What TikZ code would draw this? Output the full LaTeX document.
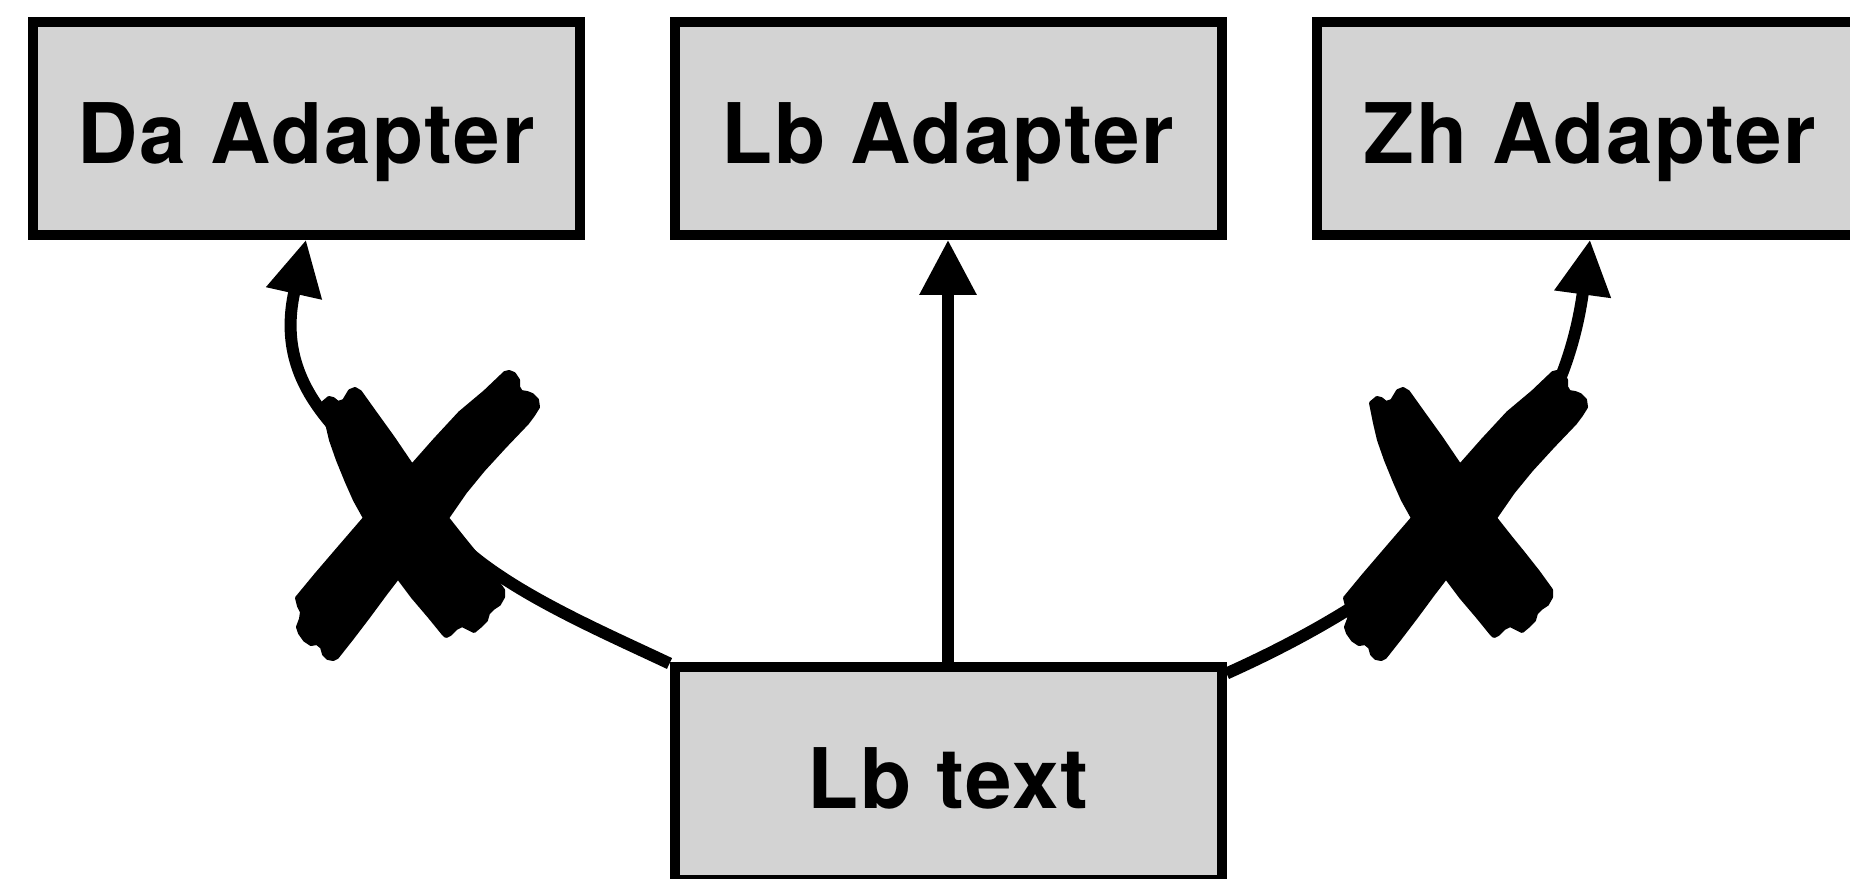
\documentclass[tikz,border=0pt]{standalone}
\usepackage{fontspec}
\setmainfont{TeX Gyre Heros}[LetterSpace=2]
\usetikzlibrary{arrows.meta}
\definecolor{boxgray}{RGB}{211,211,211}
\pgfdeclarelayer{background}
\pgfsetlayers{background,main}

\tikzset{
  block/.style={draw=black, line width=5pt, fill=boxgray,
    minimum width=273.5pt, minimum height=106.5pt, inner sep=0pt,
    font=\fontsize{41.8pt}{50pt}\selectfont\bfseries,
    text height=35pt, text depth=0pt},
  link/.style={line width=6pt, -{Triangle[length=27.5pt,width=27pt]}},
  % brush-stroke cross drawn over a blocked connector
  blockmark/.pic={
    \filldraw[black, line width=2pt, line join=round]
      (-82,-117) -- (-76,-122) -- (-72,-121) -- (-67,-117) -- (-61,-119)
      -- (-58,-124) -- (-55,-129) -- (-50,-131) -- (-45,-128)
      -- (-30,-107) -- (-12,-82) -- (7,-54)
      -- (30,-80) -- (55,-107) -- (80,-128) -- (100,-147)
      -- (104,-148) -- (109,-146) -- (113,-140) -- (113,-133) -- (116,-128)
      -- (122,-127) -- (127,-125) -- (132,-120) -- (133,-113)
      -- (128,-105) -- (122,-97) -- (100,-74) -- (78,-50) -- (60,-28) -- (42,-2)
      -- (57,17) -- (70,33) -- (85,52) -- (98,70)
      -- (98,77) -- (94,84) -- (88,88) -- (83,93) -- (81,100) -- (75,106)
      -- (69,111) -- (63,108) -- (57,105) -- (51,108) -- (45,114) -- (41,116)
      -- (38,113)
      -- (25,97) -- (8,77) -- (-7,57)
      -- (-20,74) -- (-37,97) -- (-53,118) -- (-68,137)
      -- (-72,139) -- (-77,138) -- (-81,134) -- (-83,127) -- (-88,123)
      -- (-94,124) -- (-100,120) -- (-105,113) -- (-107,107) -- (-104,99)
      -- (-103,92) -- (-106,86) -- (-108,78)
      -- (-89,55) -- (-65,27) -- (-40,-2)
      -- (-50,-20) -- (-58,-38) -- (-67,-60) -- (-74,-80) -- (-78,-97)
      -- cycle;
  }
}

\begin{document}
\begin{tikzpicture}[x=0.5pt, y=-0.5pt]
  \useasboundingbox (0,0) rectangle (1850,878);
  \clip (0,0) rectangle (1850,878);

  % adapters on top, source text below
  \node[block] (da)  at (306,128.3)  {Da Adapter};
  \node[block] (lba) at (948,128.3)  {Lb Adapter};
  \node[block] (zh)  at (1590,128.3) {Zh Adapter};
  \node[block] (lbt) at (948,773)    {Lb text};

  \coordinate (lcross) at (405,520);
  \coordinate (rcross) at (1453,520);
  % the left connector bends under its cross here
  \coordinate (lbend) at (455,540);

  \begin{pgfonlayer}{background}
    \draw[link] (lbt.north) -- (lba.south);
    \draw[link] ([yshift=-1pt]lbt.north west)
                .. controls +(-72,-34) and +(50,50) .. (lbend)
                .. controls +(-85,-85) and +(-37,165) .. (da.south);
    \draw[link] ([yshift=-6pt]lbt.north east)
                .. controls +(232,-104) and +(-27,199) .. (zh.south);
  \end{pgfonlayer}

  \pic at (lcross) {blockmark};
  \pic at (rcross) {blockmark};
\end{tikzpicture}
\end{document}
